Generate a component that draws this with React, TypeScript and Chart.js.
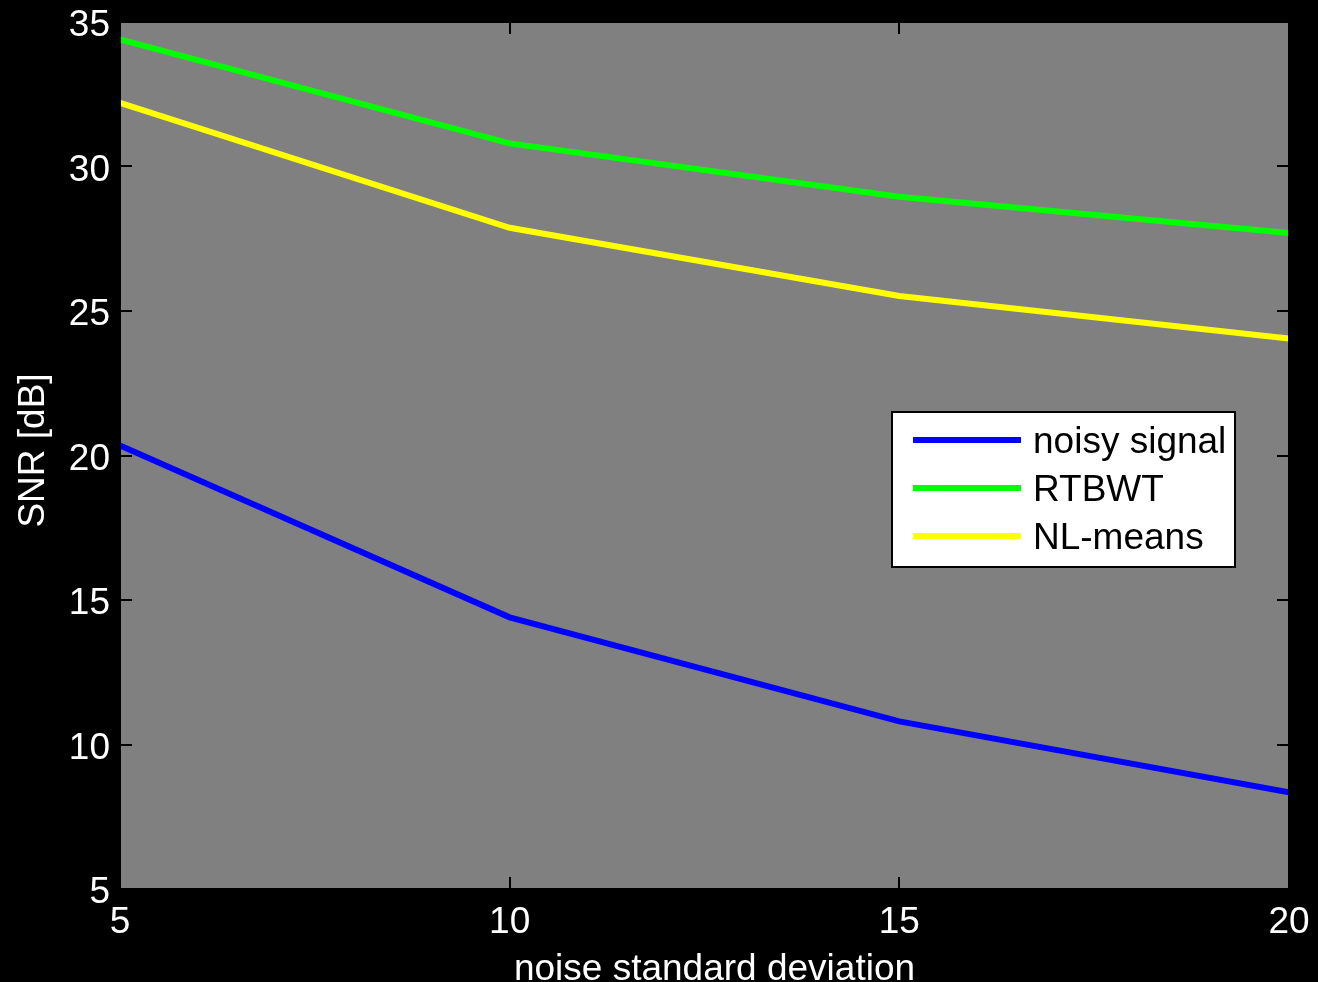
import React, { useEffect, useRef } from "react";
import { Chart, registerables } from "chart.js";

Chart.register(...registerables);

const xValues = [5, 10, 15, 20];
const noisySignal = [20.35, 14.4, 10.8, 8.35];
const rtbwt = [34.4, 30.8, 28.95, 27.7];
const nlMeans = [32.2, 27.88, 25.52, 24.05];
const seriesLabels = ["noisy signal", "RTBWT", "NL-means"];
const seriesColors = ["#0000ff", "#00ff00", "#ffff00"];
const xTitle = "noise standard deviation";
const yTitle = "SNR [dB]";

const FONT = "Liberation Sans, Arial, sans-serif";
const FS = 37;

const matlabPlugin = {
  id: "matlabStyle",
  beforeDraw(chart: any) {
    const { ctx, chartArea } = chart;
    ctx.save();
    ctx.fillStyle = "#000000";
    ctx.fillRect(0, 0, chart.width, chart.height);
    ctx.fillStyle = "#808080";
    ctx.fillRect(chartArea.left, chartArea.top, chartArea.right - chartArea.left, chartArea.bottom - chartArea.top);
    ctx.restore();
  },
  beforeDatasetsDraw(chart: any) {
    const { ctx, chartArea, scales } = chart;
    const { left, right, top, bottom } = chartArea;
    const tl = 12;
    ctx.save();
    ctx.strokeStyle = "#000000";
    ctx.lineWidth = 2;
    ctx.beginPath();
    scales.x.ticks.forEach((t: any) => {
      const px = Math.round(scales.x.getPixelForValue(t.value));
      ctx.moveTo(px, bottom);
      ctx.lineTo(px, bottom - tl);
      ctx.moveTo(px, top);
      ctx.lineTo(px, top + tl);
    });
    scales.y.ticks.forEach((t: any) => {
      const py = Math.round(scales.y.getPixelForValue(t.value));
      ctx.moveTo(left, py);
      ctx.lineTo(left + tl, py);
      ctx.moveTo(right, py);
      ctx.lineTo(right - tl, py);
    });
    ctx.stroke();
    ctx.restore();
  },
  afterDraw(chart: any) {
    const { ctx, chartArea } = chart;
    const { left, right, top, bottom } = chartArea;
    ctx.save();
    // axes box
    ctx.strokeStyle = "#000000";
    ctx.lineWidth = 2;
    ctx.strokeRect(left, top, right - left, bottom - top);

    // axis titles
    ctx.fillStyle = "#ffffff";
    ctx.font = `${FS}px ${FONT}`;
    ctx.textAlign = "center";
    ctx.textBaseline = "alphabetic";
    ctx.fillText(xTitle, (left + right) / 2 + 10, 980);
    ctx.save();
    ctx.translate(44, (top + bottom) / 2 - 5);
    ctx.rotate(-Math.PI / 2);
    ctx.fillText(yTitle, 0, 0);
    ctx.restore();

    // legend
    const lx = 892, ly = 412, lw = 343, lh = 155;
    ctx.fillStyle = "#ffffff";
    ctx.fillRect(lx, ly, lw, lh);
    ctx.strokeStyle = "#000000";
    ctx.lineWidth = 2;
    ctx.strokeRect(lx, ly, lw, lh);
    const rows = [440, 488, 536];
    chart.data.datasets.forEach((ds: any, i: number) => {
      const y = rows[i];
      ctx.strokeStyle = ds.borderColor;
      ctx.lineWidth = 6;
      ctx.beginPath();
      ctx.moveTo(913, y);
      ctx.lineTo(1021, y);
      ctx.stroke();
      ctx.fillStyle = "#000000";
      ctx.textAlign = "left";
      ctx.textBaseline = "middle";
      ctx.font = `${FS}px ${FONT}`;
      ctx.fillText(ds.label, 1033, y + 3);
    });
    ctx.restore();
  },
};

export default function App() {
  const canvasRef = useRef<HTMLCanvasElement | null>(null);

  useEffect(() => {
    document.body.style.margin = "0";
    document.body.style.background = "#000";
    const canvas = canvasRef.current;
    if (!canvas) return;
    const series = [noisySignal, rtbwt, nlMeans];
    const chart = new Chart(canvas, {
      type: "line",
      data: {
        datasets: series.map((vals, i) => ({
          label: seriesLabels[i],
          data: xValues.map((x, j) => ({ x, y: vals[j] })),
          borderColor: seriesColors[i],
          backgroundColor: seriesColors[i],
          borderWidth: 6,
          pointRadius: 0,
          tension: 0,
          fill: false,
        })),
      },
      options: {
        animation: false,
        responsive: false,
        maintainAspectRatio: false,
        devicePixelRatio: 1,
        layout: { padding: { top: 22, right: 29, left: 0, bottom: 0 } },
        plugins: {
          legend: { display: false },
          tooltip: { enabled: false },
        },
        scales: {
          x: {
            type: "linear",
            min: 5,
            max: 20,
            grid: { display: false, drawTicks: false },
            border: { display: false },
            ticks: {
              stepSize: 5,
              color: "#ffffff",
              font: { family: FONT, size: FS },
              padding: 12,
              maxRotation: 0,
            },
            afterFit(scale: any) {
              scale.height = 93;
              scale.paddingLeft = 0;
              scale.paddingRight = 0;
            },
          },
          y: {
            type: "linear",
            min: 5,
            max: 35,
            grid: { display: false, drawTicks: false },
            border: { display: false },
            ticks: {
              stepSize: 5,
              color: "#ffffff",
              font: { family: FONT, size: FS },
              padding: 10,
              labelOffset: 4,
            },
            afterFit(scale: any) {
              scale.width = 120;
              scale.paddingTop = 0;
              scale.paddingBottom = 0;
            },
          },
        },
      },
      plugins: [matlabPlugin],
    });
    return () => chart.destroy();
  }, []);

  return (
    <div style={{ position: "absolute", left: 0, top: 0, width: 1318, height: 982, background: "#000" }}>
      <canvas ref={canvasRef} width={1318} height={982} style={{ display: "block", width: 1318, height: 982 }} />
    </div>
  );
}
